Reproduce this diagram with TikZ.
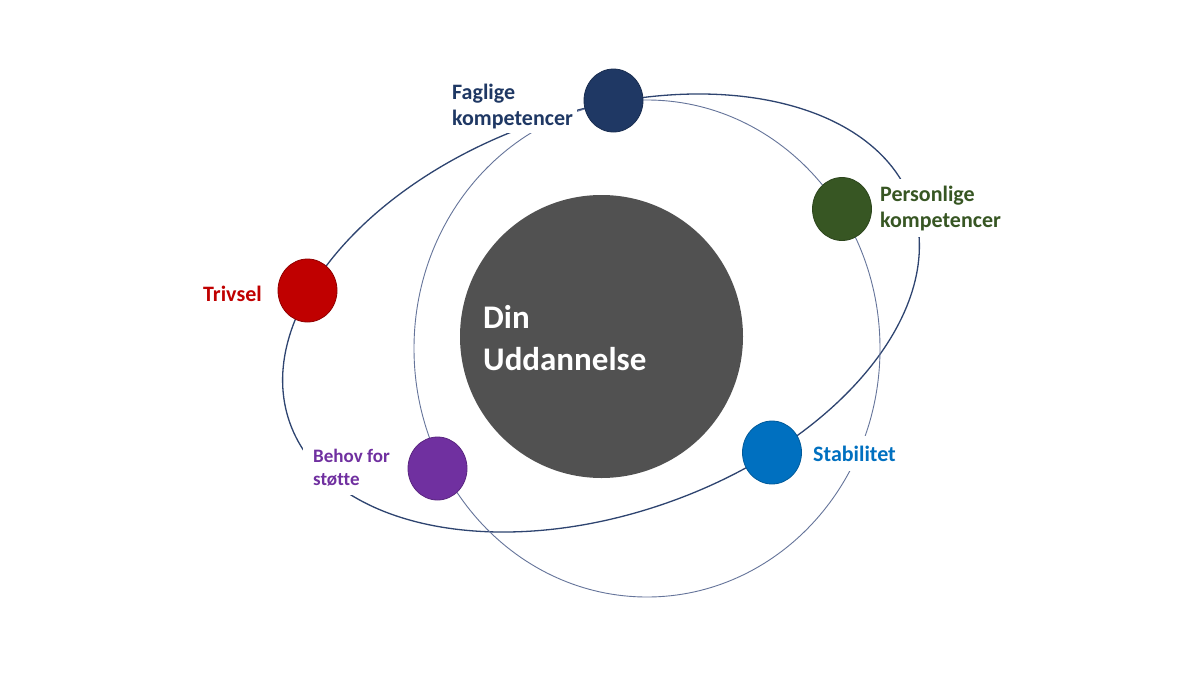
\documentclass[tikz,border=0pt]{standalone}
\usepackage{fontspec}
\setmainfont{Carlito}[Ligatures={NoCommon}]
\usetikzlibrary{shapes.geometric}
\definecolor{navyC}{HTML}{1F3864}
\definecolor{greenC}{HTML}{375623}
\definecolor{redC}{HTML}{C00000}
\definecolor{purpleC}{HTML}{7030A0}
\definecolor{blueC}{HTML}{0070C0}
\definecolor{coreGray}{HTML}{515151}
\definecolor{orbA}{HTML}{2E4470}
\definecolor{orbB}{HTML}{65749A}
\begin{document}
\begin{tikzpicture}[x=1pt,y=-1pt,
  orbitA/.style={draw=orbA, line width=1.3pt},
  orbitB/.style={draw=orbB, line width=0.9pt},
  planet/.style={ellipse, minimum width=59pt, minimum height=63pt, inner sep=0pt, line width=0.8pt},
  lbl/.style={fill=white, align=left, anchor=base west, inner xsep=4pt, inner ysep=5pt,
    font=\bfseries\fontsize{22}{26}\selectfont},
  smalllbl/.style={lbl, inner xsep=10pt, inner ysep=9pt, font=\bfseries\fontsize{19}{23}\selectfont}
]
\useasboundingbox (0,0) rectangle (1200,675);
\fill[white] (0,0) rectangle (1200,675);
% orbits
\draw[orbitA, rotate around={19.4:(601,313)}] (601,313) ellipse [x radius=330, y radius=201];
\draw[orbitB] (647,348.5) ellipse [x radius=233, y radius=248.5];
% core
\node[circle, fill=coreGray, minimum size=283pt, inner sep=0pt] (core) at (601.5,336.5) {};
\node[anchor=base west, text=white, align=left, inner sep=0pt,
  font=\bfseries\fontsize{33}{42}\selectfont] (coretext) at (483,370) {Din\\Uddannelse};
% planets
\node[planet, fill=navyC, draw=navyC!80!black] (faglige) at (613.5,100.5) {};
\node[planet, fill=greenC, draw=greenC!80!black] (personlige) at (842,209) {};
\node[planet, fill=redC, draw=redC!75!black] (trivsel) at (307.5,290.5) {};
\node[planet, fill=purpleC, draw=purpleC!80!black] (behov) at (437.5,468.5) {};
\node[planet, fill=blueC, draw=blueC!80!black] (stabilitet) at (772,452.5) {};
% labels
\node[lbl, text=navyC] (fagligeL) at (448,125) {Faglige\\kompetencer};
\node[lbl, text=greenC, inner ysep=7pt] (personligeL) at (876,227) {Personlige\\kompetencer};
\node[lbl, text=redC] (trivselL) at (199,301) {Trivsel};
\node[smalllbl, text=purpleC] (behovL) at (303,485) {Behov for\\støtte};
\node[lbl, text=blueC, inner ysep=10pt] (stabilitetL) at (809,461) {Stabilitet};
\end{tikzpicture}
\end{document}
